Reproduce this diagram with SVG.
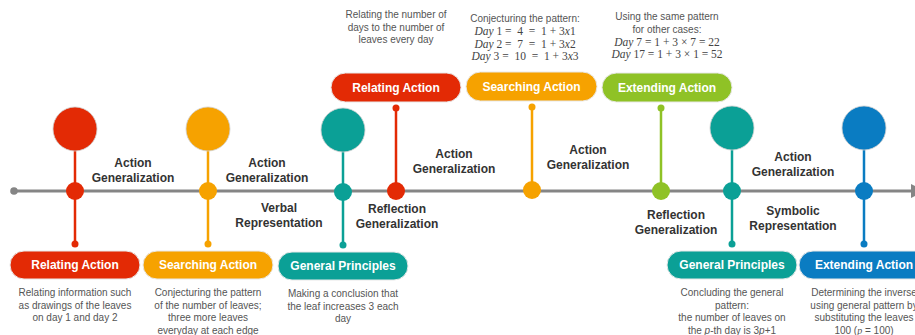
<svg xmlns="http://www.w3.org/2000/svg" width="915" height="335" viewBox="0 0 915 335">
<style>
.lbl{font-family:"Liberation Sans",Arial,sans-serif;font-size:12px;font-weight:bold;fill:#333;text-anchor:middle}
.pt{font-family:"Liberation Sans",Arial,sans-serif;font-size:12px;font-weight:bold;fill:#fff;text-anchor:middle}
.ds{font-family:"Liberation Sans",Arial,sans-serif;font-size:10px;fill:#555;text-anchor:middle}
.mt{font-family:"Liberation Serif","Times New Roman",serif;font-size:11.5px;fill:#444;text-anchor:middle;white-space:pre}
.it{font-style:italic}
.tl{stroke:#858585;stroke-width:3;fill:none}
.big{stroke:#d0d0d0;stroke-width:0.8}
.pill{stroke:#e8e8e8;stroke-width:1}
.red{fill:#E32A05}.redS{stroke:#E32A05}
.org{fill:#F6A200}.orgS{stroke:#F6A200}
.tea{fill:#0BA096}.teaS{stroke:#0BA096}
.grn{fill:#8FC226}.grnS{stroke:#8FC226}
.blu{fill:#0A7CC2}.bluS{stroke:#0A7CC2}
.stem{stroke-width:2.5;fill:none}
</style>
<g id="connectors">
  <line class="tl" x1="14" y1="191" x2="912" y2="191"/>
  <circle cx="14" cy="191" r="3.8" fill="#858585"/>
  <polygon points="911,184 911,198 925,191" fill="#858585"/>
  <line class="stem redS" x1="75" y1="128" x2="75" y2="244"/>
  <line class="stem orgS" x1="208" y1="128" x2="208" y2="244"/>
  <line class="stem teaS" x1="343" y1="130" x2="343" y2="245"/>
  <line class="stem redS" x1="396" y1="191" x2="396" y2="108"/>
  <line class="stem orgS" x1="532" y1="191" x2="532" y2="107"/>
  <line class="stem grnS" x1="661" y1="191" x2="661" y2="108"/>
  <line class="stem teaS" x1="732" y1="128" x2="732" y2="244"/>
  <line class="stem bluS" x1="864" y1="128" x2="864" y2="244"/>
  <g id="edge-labels">
    <text class="lbl" x="133" y="167">Action</text>
    <text class="lbl" x="133" y="182">Generalization</text>
    <text class="lbl" x="267" y="167">Action</text>
    <text class="lbl" x="267" y="182">Generalization</text>
    <text class="lbl" x="279" y="212">Verbal</text>
    <text class="lbl" x="279" y="227">Representation</text>
    <text class="lbl" x="397" y="213">Reflection</text>
    <text class="lbl" x="397" y="228">Generalization</text>
    <text class="lbl" x="454" y="158">Action</text>
    <text class="lbl" x="454" y="173">Generalization</text>
    <text class="lbl" x="588" y="154">Action</text>
    <text class="lbl" x="588" y="169">Generalization</text>
    <text class="lbl" x="676" y="219">Reflection</text>
    <text class="lbl" x="676" y="234">Generalization</text>
    <text class="lbl" x="793" y="161">Action</text>
    <text class="lbl" x="793" y="176">Generalization</text>
    <text class="lbl" x="793" y="215">Symbolic</text>
    <text class="lbl" x="793" y="230">Representation</text>
  </g>
</g>
<g id="node1">
  <circle class="big red" cx="75" cy="129" r="22"/>
  <circle class="red" cx="75" cy="191" r="9"/>
  <circle class="red" cx="75" cy="244" r="3.5"/>
  <rect class="pill red" x="10" y="251" width="130" height="28" rx="14"/>
  <text class="pt" x="75" y="269">Relating Action</text>
  <text class="ds" x="75" y="296">Relating information such</text>
  <text class="ds" x="75" y="308.5">as drawings of the leaves</text>
  <text class="ds" x="75" y="321">on day 1 and day 2</text>
</g>
<g id="node2">
  <circle class="big org" cx="208" cy="129" r="22"/>
  <circle class="org" cx="208" cy="191" r="9"/>
  <circle class="org" cx="208" cy="244" r="3.5"/>
  <rect class="pill org" x="143" y="251" width="130" height="28" rx="14"/>
  <text class="pt" x="208" y="269">Searching Action</text>
  <text class="ds" x="208" y="296">Conjecturing the pattern</text>
  <text class="ds" x="208" y="308.5">of the number of leaves;</text>
  <text class="ds" x="208" y="321">three more leaves</text>
  <text class="ds" x="208" y="333.5">everyday at each edge</text>
</g>
<g id="node3">
  <circle class="big tea" cx="343" cy="130" r="22"/>
  <circle class="tea" cx="343" cy="192" r="9"/>
  <circle class="tea" cx="343" cy="245" r="3.5"/>
  <rect class="pill tea" x="278" y="252" width="130" height="28" rx="14"/>
  <text class="pt" x="343" y="270">General Principles</text>
  <text class="ds" x="343" y="297">Making a conclusion that</text>
  <text class="ds" x="343" y="309.5">the leaf increases 3 each</text>
  <text class="ds" x="343" y="322">day</text>
</g>
<g id="node4">
  <circle class="red" cx="396" cy="191" r="9"/>
  <circle class="red" cx="396" cy="108" r="3.5"/>
  <rect class="pill red" x="331" y="73" width="130" height="29" rx="14.5"/>
  <text class="pt" x="396" y="91.5">Relating Action</text>
  <text class="ds" x="396" y="18">Relating the number of</text>
  <text class="ds" x="396" y="30.5">days to the number of</text>
  <text class="ds" x="396" y="43">leaves every day</text>
</g>
<g id="node5">
  <circle class="org" cx="532" cy="190" r="9"/>
  <circle class="org" cx="532" cy="107" r="3.5"/>
  <rect class="pill org" x="466" y="72" width="131" height="29" rx="14.5"/>
  <text class="pt" x="531.5" y="90.5">Searching Action</text>
  <text class="ds" x="525" y="22">Conjecturing the pattern:</text>
  <text class="mt" x="525" y="35" xml:space="preserve"><tspan class="it">Day</tspan> 1 =  4  =  1 + 3<tspan class="it">x</tspan>1</text>
  <text class="mt" x="525" y="47.5" xml:space="preserve"><tspan class="it">Day</tspan> 2 =  7  =  1 + 3<tspan class="it">x</tspan>2</text>
  <text class="mt" x="525" y="60" xml:space="preserve"><tspan class="it">Day</tspan> 3 =  10  =  1 + 3<tspan class="it">x</tspan>3</text>
</g>
<g id="node6">
  <circle class="grn" cx="661" cy="191" r="9"/>
  <circle class="grn" cx="661" cy="108" r="3.5"/>
  <rect class="pill grn" x="602" y="73" width="130" height="29" rx="14.5"/>
  <text class="pt" x="667" y="91.5">Extending Action</text>
  <text class="ds" x="667" y="20">Using the same pattern</text>
  <text class="ds" x="667" y="32.5">for other cases:</text>
  <text class="mt" x="667" y="46" xml:space="preserve"><tspan class="it">Day</tspan> 7 = 1 + 3 × 7 = 22</text>
  <text class="mt" x="667" y="58" xml:space="preserve"><tspan class="it">Day</tspan> 17 = 1 + 3 × 1 = 52</text>
</g>
<g id="node7">
  <circle class="big tea" cx="732" cy="128" r="22"/>
  <circle class="tea" cx="732" cy="191" r="9"/>
  <circle class="tea" cx="732" cy="244" r="3.5"/>
  <rect class="pill tea" x="667" y="251" width="130" height="28" rx="14"/>
  <text class="pt" x="732" y="269">General Principles</text>
  <text class="ds" x="732" y="296">Concluding the general</text>
  <text class="ds" x="732" y="308.5">pattern:</text>
  <text class="ds" x="732" y="321">the number of leaves on</text>
  <text class="ds" x="732" y="333.5">the <tspan class="it">p</tspan>-th day is 3<tspan class="it">p</tspan>+1</text>
</g>
<g id="node8">
  <circle class="big blu" cx="864" cy="128" r="22"/>
  <circle class="blu" cx="864" cy="191" r="9"/>
  <circle class="blu" cx="864" cy="244" r="3.5"/>
  <rect class="pill blu" x="799" y="251" width="130" height="28" rx="14"/>
  <text class="pt" x="864" y="269">Extending Action</text>
  <text class="ds" x="864" y="296">Determining the inverse</text>
  <text class="ds" x="864" y="308.5">using general pattern by</text>
  <text class="ds" x="864" y="321">substituting the leaves</text>
  <text class="ds" x="864" y="333.5">100 (<tspan font-family="'Liberation Serif',serif" class="it">p</tspan> = 100)</text>
</g>
</svg>
